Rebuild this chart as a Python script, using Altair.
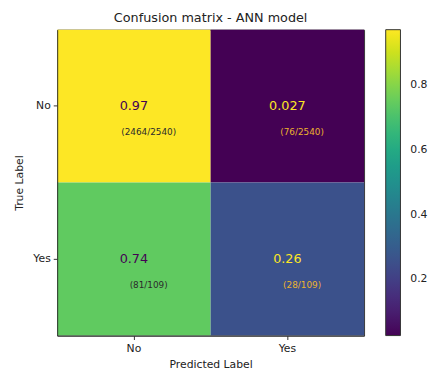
import altair as alt
import pandas as pd

true_labels = ["No", "No", "Yes", "Yes"]
pred_labels = ["No", "Yes", "No", "Yes"]
rates = [0.97, 0.027, 0.74, 0.26]
rate_text = ["0.97", "0.027", "0.74", "0.26"]
count_text = ["(2464/2540)", "(76/2540)", "(81/109)", "(28/109)"]
colorbar_ticks = [0.2, 0.4, 0.6, 0.8]
order = ["No", "Yes"]

df = pd.DataFrame({
    "true": true_labels,
    "pred": pred_labels,
    "rate": rates,
    "rate_text": rate_text,
    "count_text": count_text,
})

FONT = "DejaVu Sans"

x_enc = alt.X("pred:N", sort=order, title="Predicted Label",
              scale=alt.Scale(paddingInner=0, paddingOuter=0),
              axis=alt.Axis(labelAngle=0, tickSize=4, labelPadding=3, titlePadding=5))
y_enc = alt.Y("true:N", sort=order, title="True Label",
              scale=alt.Scale(paddingInner=0, paddingOuter=0),
              axis=alt.Axis(tickSize=4, labelPadding=3, titlePadding=8))

base = alt.Chart(df).encode(x=x_enc, y=y_enc)

rect = base.mark_rect().encode(
    color=alt.Color(
        "rate:Q",
        scale=alt.Scale(scheme="viridis", domain=[min(rates), max(rates)], nice=False, zero=False),
        legend=alt.Legend(
            title=None,
            values=colorbar_ticks,
            format=".1f",
            gradientLength=311,
            gradientThickness=15,
            gradientStrokeColor="#333",
            gradientStrokeWidth=1,
            offset=22,
            labelOffset=10,
            labelFontSize=11,
            labelFont=FONT,
            labelColor="#222",
        ),
    )
)

main_text = base.mark_text(font=FONT, fontSize=13, baseline="middle", align="center").encode(
    text="rate_text:N",
    color=alt.condition(alt.datum.rate > 0.5, alt.value("#440154"), alt.value("#fde725")),
)

sub_text = base.mark_text(font=FONT, fontSize=9, baseline="middle", align="center", dx=15, dy=26).encode(
    text="count_text:N",
    color=alt.condition(alt.datum.rate > 0.5, alt.value("#2b2b2b"), alt.value("#ecb32e")),
)

chart = (rect + main_text + sub_text).properties(
    width=312,
    height=311,
    title=alt.TitleParams("Confusion matrix - ANN model", fontSize=13, font=FONT,
                          fontWeight="normal", color="#222", offset=5),
    padding={"left": 6, "top": 1, "right": 0, "bottom": 0},
).configure_view(
    stroke="#333", strokeWidth=1
).configure_axis(
    labelFont=FONT, titleFont=FONT, labelFontSize=11, titleFontSize=11,
    titleFontWeight="normal", labelColor="#222", titleColor="#222",
    domainColor="#333", tickColor="#333", grid=False,
)

chart.save("out.html", embed_options={"renderer": "svg", "actions": False})
